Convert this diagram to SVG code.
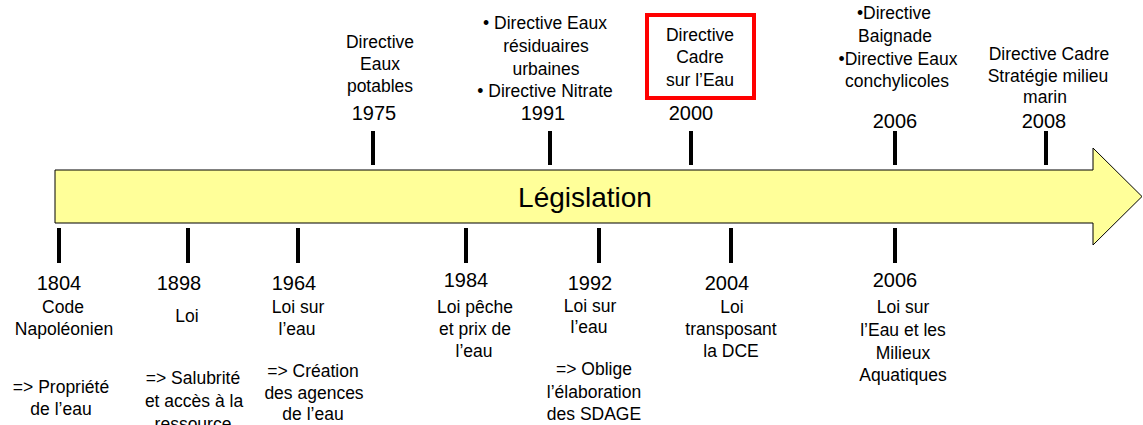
<svg xmlns="http://www.w3.org/2000/svg" width="1143" height="425" viewBox="0 0 1143 425">
<style>
text{font-family:"Liberation Sans",Arial,sans-serif;fill:#000;text-anchor:middle}
.t{font-size:17.5px}
.y{font-size:20px}
.big{font-size:28px}
.tick{stroke:#000;stroke-width:4}
</style>
<rect width="1143" height="425" fill="#fff"/>
<g id="arrow">
<polygon points="55,170 1093,170 1093,148 1142,196.5 1093,245 1093,223 55,223" fill="#FFFF99" stroke="#000" stroke-width="1"/>
<text class="big" x="585" y="207">Législation</text>
</g>
<g id="connectors">
<line class="tick" x1="373" y1="131" x2="373" y2="165"/>
<line class="tick" x1="550" y1="131" x2="550" y2="165"/>
<line class="tick" x1="691" y1="131" x2="691" y2="165"/>
<line class="tick" x1="895" y1="131" x2="895" y2="165"/>
<line class="tick" x1="1046" y1="131" x2="1046" y2="165"/>
<line class="tick" x1="59" y1="228" x2="59" y2="263"/>
<line class="tick" x1="188" y1="228" x2="188" y2="263"/>
<line class="tick" x1="298" y1="228" x2="298" y2="263"/>
<line class="tick" x1="466" y1="228" x2="466" y2="263"/>
<line class="tick" x1="599" y1="228" x2="599" y2="263"/>
<line class="tick" x1="731" y1="228" x2="731" y2="263"/>
<line class="tick" x1="895" y1="228" x2="895" y2="263"/>
</g>
<g id="n1975">
<text class="t" x="380" y="48">Directive</text>
<text class="t" x="380" y="70">Eaux</text>
<text class="t" x="380" y="92">potables</text>
<text class="y" x="374" y="120">1975</text>
</g>
<g id="n1991">
<text class="t" x="545" y="29">• Directive Eaux</text>
<text class="t" x="546" y="52">résiduaires</text>
<text class="t" x="546" y="75">urbaines</text>
<text class="t" x="545" y="97">• Directive Nitrate</text>
<text class="y" x="543" y="120">1991</text>
</g>
<g id="n2000">
<rect x="647" y="15" width="107" height="83" fill="none" stroke="#FF0000" stroke-width="4"/>
<text class="t" x="700" y="41">Directive</text>
<text class="t" x="700" y="63">Cadre</text>
<text class="t" x="700" y="86">sur l’Eau</text>
<text class="y" x="691" y="120">2000</text>
</g>
<g id="n2006top">
<text class="t" x="894" y="19">•Directive</text>
<text class="t" x="895" y="42">Baignade</text>
<text class="t" x="898" y="65">•Directive Eaux</text>
<text class="t" x="897" y="87">conchylicoles</text>
<text class="y" x="895" y="128">2006</text>
</g>
<g id="n2008">
<text class="t" x="1049" y="60">Directive Cadre</text>
<text class="t" x="1048" y="82">Stratégie milieu</text>
<text class="t" x="1045" y="103">marin</text>
<text class="y" x="1044" y="128">2008</text>
</g>
<g id="n1804">
<text class="y" x="59" y="290">1804</text>
<text class="t" x="63" y="313">Code</text>
<text class="t" x="64" y="335">Napoléonien</text>
<text class="t" x="61" y="393">=&gt; Propriété</text>
<text class="t" x="61" y="415">de l’eau</text>
</g>
<g id="n1898">
<text class="y" x="179" y="290">1898</text>
<text class="t" x="187" y="322">Loi</text>
<text class="t" x="193" y="384">=&gt; Salubrité</text>
<text class="t" x="194" y="407">et accès à la</text>
<text class="t" x="193" y="430">ressource</text>
</g>
<g id="n1964">
<text class="y" x="294" y="290">1964</text>
<text class="t" x="298" y="313">Loi sur</text>
<text class="t" x="297" y="335">l’eau</text>
<text class="t" x="313" y="377">=&gt; Création</text>
<text class="t" x="314" y="399">des agences</text>
<text class="t" x="313" y="420">de l’eau</text>
</g>
<g id="n1984">
<text class="y" x="466" y="287">1984</text>
<text class="t" x="475" y="313">Loi pêche</text>
<text class="t" x="475" y="335">et prix de</text>
<text class="t" x="474" y="357">l’eau</text>
</g>
<g id="n1992">
<text class="y" x="590" y="290">1992</text>
<text class="t" x="590" y="312">Loi sur</text>
<text class="t" x="589" y="333">l’eau</text>
<text class="t" x="594" y="375">=&gt; Oblige</text>
<text class="t" x="594" y="398">l’élaboration</text>
<text class="t" x="594" y="420">des SDAGE</text>
</g>
<g id="n2004">
<text class="y" x="727" y="290">2004</text>
<text class="t" x="732" y="313">Loi</text>
<text class="t" x="731" y="335">transposant</text>
<text class="t" x="731" y="357">la DCE</text>
</g>
<g id="n2006bottom">
<text class="y" x="895" y="287">2006</text>
<text class="t" x="903" y="313">Loi sur</text>
<text class="t" x="903" y="336">l’Eau et les</text>
<text class="t" x="903" y="359">Milieux</text>
<text class="t" x="903" y="381">Aquatiques</text>
</g>
</svg>
